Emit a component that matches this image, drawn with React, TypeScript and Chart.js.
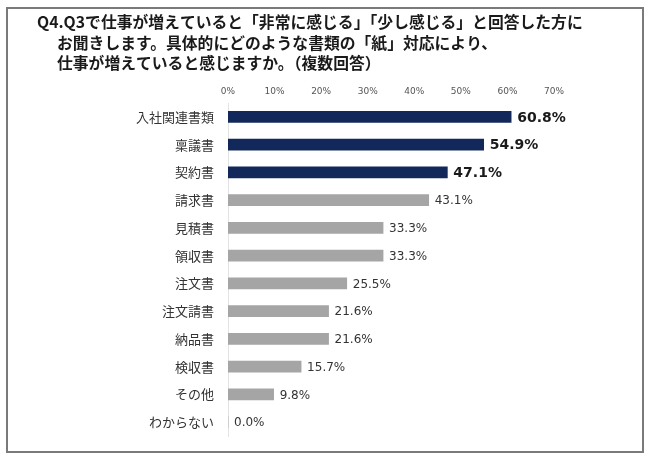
import React, { useEffect, useRef } from "react";
import { Chart, registerables } from "chart.js";

Chart.register(...registerables);

const categories = [
  "入社関連書類",
  "稟議書",
  "契約書",
  "請求書",
  "見積書",
  "領収書",
  "注文書",
  "注文請書",
  "納品書",
  "検収書",
  "その他",
  "わからない",
];
const values = [60.8, 54.9, 47.1, 43.1, 33.3, 33.3, 25.5, 21.6, 21.6, 15.7, 9.8, 0.0];
const highlightCount = 3;
const axisMax = 70;
const axisStep = 10;
const titleLines = [
  "Q4.Q3で仕事が増えていると「非常に感じる」「少し感じる」と回答した方に",
  "お聞きします。具体的にどのような書類の「紙」対応により、",
  "仕事が増えていると感じますか。（複数回答）",
];

const NAVY = "#13285a";
const GREY = "#a5a5a5";
const JP = "'Noto Sans CJK JP', 'Noto Sans', sans-serif";
const LAT = "'DejaVu Sans', Verdana, sans-serif";

export default function App() {
  const ref = useRef<HTMLCanvasElement | null>(null);

  useEffect(() => {
    if (!ref.current) return;

    const framePlugin = {
      id: "frameAndTitle",
      beforeDraw(chart: any) {
        const ctx = chart.ctx;
        ctx.save();
        ctx.fillStyle = "#ffffff";
        ctx.fillRect(0, 0, chart.width, chart.height);
        ctx.strokeStyle = "#7a7a7a";
        ctx.lineWidth = 2;
        ctx.strokeRect(7, 8, 636, 444);
        ctx.restore();
      },
      afterDraw(chart: any) {
        const ctx = chart.ctx;
        ctx.save();
        ctx.fillStyle = "#1a1a1a";
        ctx.font = `bold 15.8px ${JP}`;
        ctx.textBaseline = "middle";
        ctx.textAlign = "left";
        ctx.fillText(titleLines[0], 37, 22);
        ctx.fillText(titleLines[1], 57, 43);
        ctx.fillText(titleLines[2], 57, 63);
        ctx.restore();
      },
    };

    const valueLabelPlugin = {
      id: "valueLabels",
      afterDatasetsDraw(chart: any) {
        const ctx = chart.ctx;
        const meta = chart.getDatasetMeta(0);
        ctx.save();
        ctx.textBaseline = "middle";
        ctx.textAlign = "left";
        meta.data.forEach((el: any, i: number) => {
          const v = values[i];
          const hi = i < highlightCount;
          ctx.font = hi ? `bold 14px ${LAT}` : `12px ${LAT}`;
          ctx.fillStyle = hi ? "#1a1a1a" : "#333333";
          ctx.fillText(v.toFixed(1) + "%", el.x + 6, el.y + 1);
        });
        ctx.restore();
      },
    };

    const chart = new Chart(ref.current, {
      type: "bar",
      data: {
        labels: categories,
        datasets: [
          {
            data: values,
            backgroundColor: values.map((_, i) => (i < highlightCount ? NAVY : GREY)),
            barThickness: 11,
            borderWidth: 0,
          },
        ],
      },
      options: {
        indexAxis: "y",
        animation: false,
        responsive: false,
        maintainAspectRatio: false,
        layout: { padding: { left: 0, right: 96, top: 0, bottom: 25 } },
        plugins: {
          legend: { display: false },
          tooltip: { enabled: false },
          title: { display: false },
        },
        scales: {
          x: {
            position: "top",
            min: 0,
            max: axisMax,
            grid: { display: false, drawTicks: false },
            border: { display: false },
            ticks: {
              stepSize: axisStep,
              padding: 6,
              maxRotation: 0,
              color: "#555555",
              font: { family: LAT, size: 9 },
              callback: (v: any) => `${v}%`,
            },
            afterFit: (scale: any) => {
              scale.height = 103;
            },
          },
          y: {
            grid: { display: false, drawTicks: false },
            border: { display: true, color: "#e3e3e3", width: 1 },
            ticks: {
              padding: 14,
              color: "#333333",
              font: { family: JP, size: 13 },
            },
            afterFit: (scale: any) => {
              scale.width = 228;
            },
          },
        },
      },
      plugins: [framePlugin, valueLabelPlugin],
    } as any);

    return () => chart.destroy();
  }, []);

  return (
    <div style={{ position: "fixed", left: 0, top: 0, width: 650, height: 461, background: "#fff" }}>
      <canvas ref={ref} width={650} height={461} style={{ display: "block", width: 650, height: 461 }} />
    </div>
  );
}
